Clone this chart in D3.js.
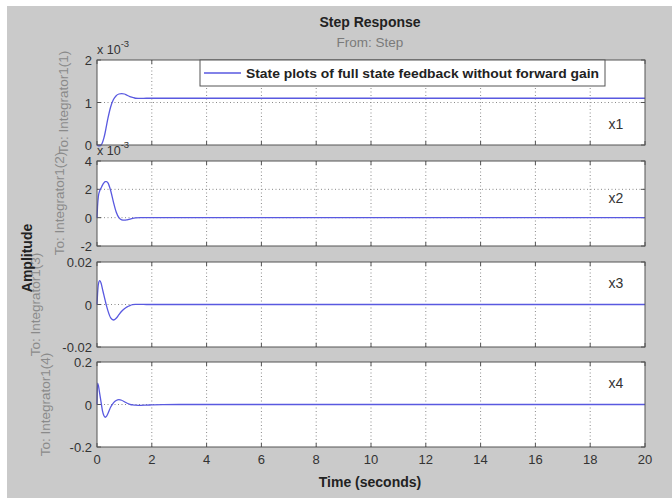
<!DOCTYPE html>
<html lang="en">
<head>
<meta charset="utf-8">
<title>Step Response</title>
<script src="https://cdn.jsdelivr.net/npm/d3@7"></script>
<style>
  body { margin: 0; background: #fff; }
  text { font-family: "Liberation Sans", Arial, sans-serif; }
</style>
</head>
<body>
<script>
// time samples (seconds)
var time = [0, 0.02, 0.05, 0.1, 0.15, 0.2, 0.25, 0.3, 0.35, 0.4, 0.5, 0.6, 0.7, 0.8, 0.9, 1.0, 1.1, 1.2, 1.3, 1.4, 1.6, 1.8, 2.0, 2.4, 3, 20];
// states, x1 and x2 in units of 1e-3
var x1 = [0, -0.01, -0.02, -0.02, 0.0, 0.06, 0.16, 0.3, 0.47, 0.63, 0.9, 1.07, 1.16, 1.2, 1.21, 1.2, 1.17, 1.14, 1.12, 1.1, 1.095, 1.1, 1.1, 1.1, 1.1, 1.1];
var x2 = [0, 0.8, 1.5, 1.9, 2.1, 2.3, 2.45, 2.55, 2.55, 2.45, 1.9, 1.1, 0.4, 0, -0.15, -0.18, -0.15, -0.1, -0.05, -0.02, 0, 0, 0, 0, 0, 0];
var x3 = [0, 0.005, 0.0095, 0.0112, 0.01, 0.0072, 0.0045, 0.0018, -0.0008, -0.003, -0.0063, -0.0073, -0.0065, -0.0048, -0.0032, -0.002, -0.0011, -0.0005, -0.0001, 0.0001, 0.0001, 0, 0, 0, 0, 0];
var x4 = [0, 0.1, 0.09, 0.05, 0.01, -0.03, -0.052, -0.06, -0.055, -0.042, -0.012, 0.008, 0.019, 0.023, 0.02, 0.013, 0.006, 0.001, -0.002, -0.003, -0.004, -0.003, -0.002, -0.0005, 0, 0];

var xTicks = [0, 2, 4, 6, 8, 10, 12, 14, 16, 18, 20];
var panels = [
  {name: "x1", values: x1, domain: [0, 2], ticks: [0, 1, 2], labels: ["0", "1", "2"], exp: true, ylab: "To: Integrator1(1)", labX: 68, nameAt: 0.5},
  {name: "x2", values: x2, domain: [-2, 4], ticks: [-2, 0, 2, 4], labels: ["-2", "0", "2", "4"], exp: true, ylab: "To: Integrator1(2)", labX: 64, nameAt: 1.4},
  {name: "x3", values: x3, domain: [-0.02, 0.02], ticks: [-0.02, 0, 0.02], labels: ["-0.02", "0", "0.02"], exp: false, ylab: "To: Integrator1(3)", labX: 40, nameAt: 0.01},
  {name: "x4", values: x4, domain: [-0.2, 0.2], ticks: [-0.2, 0, 0.2], labels: ["-0.2", "0", "0.2"], exp: false, ylab: "To: Integrator1(4)", labX: 50, nameAt: 0.1}
];

var width = 672, height = 501;
var left = 97, right = 645;
var tops = [60, 161, 262, 362], ph = 85;
var lineColor = "#5959e0";

var svg = d3.select("body").append("svg")
  .attr("width", width).attr("height", height);

// figure background
svg.append("rect").attr("x", 7).attr("y", 6).attr("width", width - 7).attr("height", 492).attr("fill", "#cacaca");

var x = d3.scaleLinear().domain([0, 20]).range([left, right]);

panels.forEach(function(p, i) {
  var top = tops[i], bot = top + ph;
  var y = d3.scaleLinear().domain(p.domain).range([bot, top]);
  var g = svg.append("g");

  g.append("rect").attr("x", left).attr("y", top).attr("width", right - left).attr("height", ph)
    .attr("fill", "#fff");

  // grid
  g.selectAll(".gx").data(xTicks.slice(1, -1)).enter().append("line")
    .attr("x1", d => x(d)).attr("x2", d => x(d)).attr("y1", top).attr("y2", bot)
    .attr("stroke", "#8a8a8a").attr("stroke-dasharray", "1,2.5");
  g.selectAll(".gy").data(p.ticks.slice(1, -1)).enter().append("line")
    .attr("x1", left).attr("x2", right).attr("y1", d => y(d)).attr("y2", d => y(d))
    .attr("stroke", "#8a8a8a").attr("stroke-dasharray", "1,2.5");

  // ticks inward on all sides
  g.selectAll(".tx").data(xTicks).enter().append("path")
    .attr("d", d => "M" + x(d) + "," + bot + "v-4M" + x(d) + "," + top + "v4")
    .attr("stroke", "#555");
  g.selectAll(".ty").data(p.ticks).enter().append("path")
    .attr("d", d => "M" + left + "," + y(d) + "h4M" + right + "," + y(d) + "h-4")
    .attr("stroke", "#555");

  // curve
  var pts = time.map((t, k) => [t, p.values[k]]);
  g.append("path").datum(pts)
    .attr("d", d3.line().x(d => x(d[0])).y(d => y(d[1])).curve(d3.curveMonotoneX))
    .attr("fill", "none").attr("stroke", lineColor).attr("stroke-width", 1.3);

  g.append("rect").attr("x", left).attr("y", top).attr("width", right - left).attr("height", ph)
    .attr("fill", "none").attr("stroke", "#555");

  // y tick labels
  g.selectAll(".yl").data(p.ticks).enter().append("text")
    .attr("x", left - 5).attr("y", d => y(d) + 5)
    .attr("text-anchor", "end").attr("font-size", 13).attr("fill", "#333")
    .text((d, k) => p.labels[k]);

  if (p.exp) {
    var e = g.append("text").attr("x", left).attr("y", top - 6).attr("font-size", 12.5).attr("fill", "#333");
    e.append("tspan").text("x 10");
    e.append("tspan").attr("dy", -7).attr("font-size", 9.5).text("-3");
  }

  // y label (rotated)
  g.append("text")
    .attr("transform", "translate(" + p.labX + "," + (top + ph / 2) + ") rotate(-90)")
    .attr("text-anchor", "middle").attr("font-size", 13.5).attr("fill", "#8a8a8a")
    .text(p.ylab);

  g.append("text").attr("x", 616).attr("y", y(p.nameAt) + 5)
    .attr("text-anchor", "middle").attr("font-family", "Liberation Serif, serif")
    .attr("font-size", 14).attr("fill", "#333").text(p.name);

  if (i === 3) {
    g.selectAll(".xl").data(xTicks).enter().append("text")
      .attr("x", d => x(d)).attr("y", bot + 17)
      .attr("text-anchor", "middle").attr("font-size", 13).attr("fill", "#333")
      .text(d => d);
  }
});

// titles
svg.append("text").attr("x", 370).attr("y", 27).attr("text-anchor", "middle")
  .attr("font-size", 14).attr("font-weight", "bold").attr("fill", "#222").text("Step Response");
svg.append("text").attr("x", 370).attr("y", 47).attr("text-anchor", "middle")
  .attr("font-size", 13.5).attr("fill", "#7a7a7a").text("From: Step");
svg.append("text").attr("x", 370).attr("y", 487).attr("text-anchor", "middle")
  .attr("font-size", 14).attr("font-weight", "bold").attr("fill", "#222").text("Time (seconds)");
svg.append("text").attr("transform", "translate(32,258) rotate(-90)").attr("text-anchor", "middle")
  .attr("font-size", 14).attr("font-weight", "bold").attr("fill", "#222").text("Amplitude");

// legend
var lg = svg.append("g");
lg.append("rect").attr("x", 200).attr("y", 60).attr("width", 405).attr("height", 26)
  .attr("fill", "#fff").attr("stroke", "#555");
lg.append("line").attr("x1", 204).attr("x2", 241).attr("y1", 73).attr("y2", 73)
  .attr("stroke", lineColor).attr("stroke-width", 1.3);
lg.append("text").attr("x", 246).attr("y", 78).attr("font-size", 13.5).attr("font-weight", "bold")
  .attr("fill", "#222").attr("textLength", 353).attr("lengthAdjust", "spacingAndGlyphs")
  .text("State plots of full state feedback without forward gain");
</script>
</body>
</html>
